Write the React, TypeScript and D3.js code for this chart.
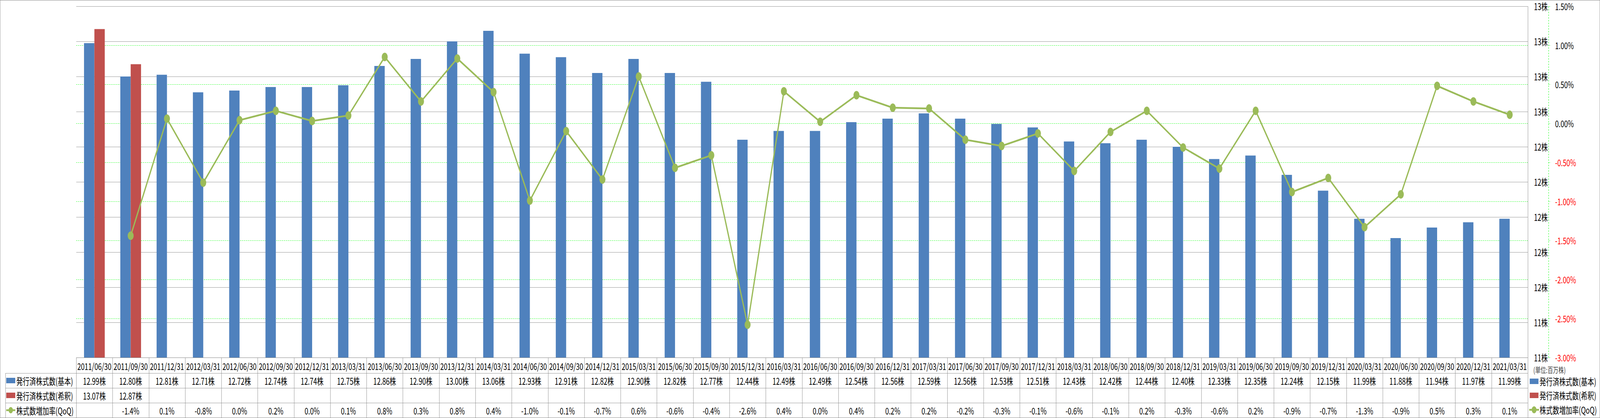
import * as d3 from "d3";

const dates = [
  "2011/06/30", "2011/09/30", "2011/12/31",
  "2012/03/31", "2012/06/30", "2012/09/30", "2012/12/31",
  "2013/03/31", "2013/06/30", "2013/09/30", "2013/12/31",
  "2014/03/31", "2014/06/30", "2014/09/30", "2014/12/31",
  "2015/03/31", "2015/06/30", "2015/09/30", "2015/12/31",
  "2016/03/31", "2016/06/30", "2016/09/30", "2016/12/31",
  "2017/03/31", "2017/06/30", "2017/09/30", "2017/12/31",
  "2018/03/31", "2018/06/30", "2018/09/30", "2018/12/31",
  "2019/03/31", "2019/06/30", "2019/09/30", "2019/12/31",
  "2020/03/31", "2020/06/30", "2020/09/30", "2020/12/31",
  "2021/03/31",
];

// 発行済株式数(基本) 百万株
const basic = [
  12.99, 12.80, 12.81,
  12.71, 12.72, 12.74, 12.74,
  12.75, 12.86, 12.90, 13.00,
  13.06, 12.93, 12.91, 12.82,
  12.90, 12.82, 12.77, 12.44,
  12.49, 12.49, 12.54, 12.56,
  12.59, 12.56, 12.53, 12.51,
  12.43, 12.42, 12.44, 12.40,
  12.33, 12.35, 12.24, 12.15,
  11.99, 11.88, 11.94, 11.97,
  11.99,
];

// 発行済株式数(希釈)
const diluted: (number | null)[] = [13.07, 12.87];

// 株式数増加率(QoQ) %
const qoq: (number | null)[] = [
  null, -1.44, 0.06,
  -0.76, 0.04, 0.16, 0.03,
  0.10, 0.85, 0.28, 0.83,
  0.40, -0.99, -0.10, -0.72,
  0.60, -0.57, -0.41, -2.58,
  0.41, 0.02, 0.36, 0.20,
  0.19, -0.21, -0.29, -0.13,
  -0.61, -0.11, 0.16, -0.31,
  -0.58, 0.16, -0.88, -0.70,
  -1.33, -0.91, 0.48, 0.28,
  0.11,
];

const leftTicks = [11.2, 11.4, 11.6, 11.8, 12.0, 12.2, 12.4, 12.6, 12.8, 13.0, 13.2];
const rightTicks = [-3.0, -2.5, -2.0, -1.5, -1.0, -0.5, 0.0, 0.5, 1.0, 1.5];

const seriesNames = ["発行済株式数(基本)", "発行済株式数(希釈)", "株式数増加率(QoQ)"];

const BLUE = "#4F81BD";
const RED = "#C0504D";
const GREEN = "#9BBB59";
const GRID = "#868686";
const LIME = "#00FF00";
const FONT = "'Noto Sans CJK JP', 'Noto Sans', sans-serif";

const locale = d3.formatLocale({ decimal: ".", thousands: ",", grouping: [3], currency: ["", ""], minus: "-" });

export default function App() {
  const width = 5876;
  const height = 1071;
  const margin = { left: 280, right: 5611, top: 16, bottom: 916 };
  const rows = [916, 956, 994, 1032, 1070];

  const x = d3.scaleBand<string>()
    .domain(dates)
    .range([margin.left, margin.right]);

  const xSub = d3.scaleBand<string>()
    .domain(["basic", "diluted"])
    .range([0, x.bandwidth()])
    .paddingInner(0)
    .paddingOuter(0.75);

  const y = d3.scaleLinear()
    .domain([11.2, 13.2])
    .range([margin.bottom, margin.top]);

  const y2 = d3.scaleLinear()
    .domain([-3, 1.5])
    .range([margin.bottom, margin.top]);

  const cx = (d: string) => (x(d) ?? 0) + x.bandwidth() / 2;

  const line = d3.line<number | null>()
    .defined(v => v !== null)
    .x((_, i) => cx(dates[i]))
    .y(v => y2(v as number));

  const fmtShare = (v: number) => locale.format(".2f")(v) + "株";
  const fmtPct = (v: number) => locale.format(".1f")(v) + "%";
  const fmtAxisPct = (v: number) => locale.format(".2f")(v) + "%";

  const axisX = 5687;

  return (
    <>
      <style>{`html,body{margin:0;padding:0;overflow:hidden}`}</style>
      <svg viewBox={`0 0 ${width} ${height}`} preserveAspectRatio="none"
        style={{ display: "block", width: "100vw", height: "100vh" }} fontFamily={FONT}>
        <rect x={0} y={0} width={width} height={height} fill="#fff" />
        <rect x={0.5} y={0.5} width={width - 1} height={height - 1} fill="none" stroke={GRID} />

        {/* primary gridlines */}
        {leftTicks.map(t => (
          <line key={"g" + t} x1={margin.left} x2={margin.right} y1={Math.round(y(t)) + 0.5} y2={Math.round(y(t)) + 0.5} stroke={GRID} />
        ))}
        {/* secondary gridlines */}
        {rightTicks.slice(1, -1).map(t => (
          <line key={"s" + t} x1={margin.left} x2={margin.right} y1={Math.round(y2(t)) + 0.5} y2={Math.round(y2(t)) + 0.5}
            stroke={LIME} strokeDasharray="4 3" />
        ))}

        {/* bars */}
        {basic.map((v, i) => (
          <rect key={"b" + i} x={(x(dates[i]) ?? 0) + (xSub("basic") ?? 0)} y={y(v)}
            width={xSub.bandwidth()} height={y(11.2) - y(v)} fill={BLUE} />
        ))}
        {diluted.map((v, i) => v === null ? null : (
          <rect key={"r" + i} x={(x(dates[i]) ?? 0) + (xSub("diluted") ?? 0)} y={y(v)}
            width={xSub.bandwidth()} height={y(11.2) - y(v)} fill={RED} />
        ))}

        {/* plot right edge */}
        <line x1={margin.right + 0.5} x2={margin.right + 0.5} y1={margin.top} y2={margin.bottom} stroke={GRID} />

        {/* QoQ line */}
        <path d={line(qoq) ?? ""} fill="none" stroke={GREEN} strokeWidth={4.5} strokeLinejoin="round" />
        {qoq.map((v, i) => v === null ? null : (
          <circle key={"c" + i} cx={cx(dates[i])} cy={y2(v)} r={11} fill={GREEN} />
        ))}

        {/* primary axis labels */}
        {leftTicks.map(t => (
          <text key={"lt" + t} x={axisX - 3} y={y(t)} textAnchor="end" dominantBaseline="central" fontSize={24} fill="#000">
            {d3.format(".0f")(t)}株
          </text>
        ))}

        {/* secondary axis */}
        <line x1={axisX + 0.5} x2={axisX + 0.5} y1={margin.top} y2={margin.bottom} stroke={LIME} strokeDasharray="4 3" />
        {rightTicks.map(t => (
          <g key={"rt" + t}>
            <line x1={axisX} x2={axisX + 8} y1={Math.round(y2(t)) + 0.5} y2={Math.round(y2(t)) + 0.5} stroke={LIME} strokeDasharray="4 3" />
            <text x={axisX + 24} y={y2(t)} dominantBaseline="central" fontSize={24} fill={t < 0 ? "#FF0000" : "#000"}>
              {fmtAxisPct(t)}
            </text>
          </g>
        ))}

        <text x={5631} y={947} dominantBaseline="central" fontSize={20} fill="#404040">(単位:百万株)</text>

        {/* data table */}
        <g stroke={GRID} fill="none">
          <line x1={margin.left} x2={margin.right} y1={rows[0] + 0.5} y2={rows[0] + 0.5} />
          {rows.slice(1).map(r => (
            <line key={"h" + r} x1={20} x2={margin.right} y1={r + 0.5} y2={r + 0.5} />
          ))}
          <line x1={20.5} x2={20.5} y1={rows[1]} y2={rows[4]} />
          {dates.map(d => (
            <line key={"v" + d} x1={Math.round(x(d) ?? 0) + 0.5} x2={Math.round(x(d) ?? 0) + 0.5} y1={rows[0]} y2={rows[4]} />
          ))}
          <line x1={margin.right + 0.5} x2={margin.right + 0.5} y1={rows[0]} y2={rows[4]} />
        </g>

        {dates.map((d, i) => (
          <g key={"t" + d} fontSize={24} fill="#000" textAnchor="middle">
            <text x={cx(d)} y={(rows[0] + rows[1]) / 2 + 2} dominantBaseline="central">{d}</text>
            <text x={cx(d)} y={(rows[1] + rows[2]) / 2 + 1} dominantBaseline="central">{fmtShare(basic[i])}</text>
            {diluted[i] != null && (
              <text x={cx(d)} y={(rows[2] + rows[3]) / 2 + 1} dominantBaseline="central">{fmtShare(diluted[i] as number)}</text>
            )}
            {qoq[i] != null && (
              <text x={cx(d)} y={(rows[3] + rows[4]) / 2 + 1} dominantBaseline="central">{fmtPct(qoq[i] as number)}</text>
            )}
          </g>
        ))}

        {/* table row keys */}
        {seriesNames.map((name, i) => {
          const cy = (rows[i + 1] + rows[i + 2]) / 2;
          return (
            <g key={"k" + name}>
              {i < 2 ? (
                <rect x={23} y={cy - 7} width={33} height={14} fill={i === 0 ? BLUE : RED} />
              ) : (
                <g>
                  <line x1={23} x2={56} y1={cy} y2={cy} stroke={GREEN} strokeWidth={4.5} />
                  <circle cx={39.5} cy={cy} r={8} fill={GREEN} />
                </g>
              )}
              <text x={60} y={cy + 1} dominantBaseline="central" fontSize={24} fill="#000">{name}</text>
            </g>
          );
        })}

        {/* legend */}
        {seriesNames.map((name, i) => {
          const cy = [977, 1013, 1050][i];
          return (
            <g key={"lg" + name}>
              {i < 2 ? (
                <rect x={5618} y={cy - 7} width={32} height={14} fill={i === 0 ? BLUE : RED} />
              ) : (
                <g>
                  <line x1={5616} x2={5652} y1={cy} y2={cy} stroke={GREEN} strokeWidth={4.5} />
                  <circle cx={5634} cy={cy} r={9} fill={GREEN} />
                </g>
              )}
              <text x={5654} y={cy} dominantBaseline="central" fontSize={24} fill="#000">{name}</text>
            </g>
          );
        })}
      </svg>
    </>
  );
}
